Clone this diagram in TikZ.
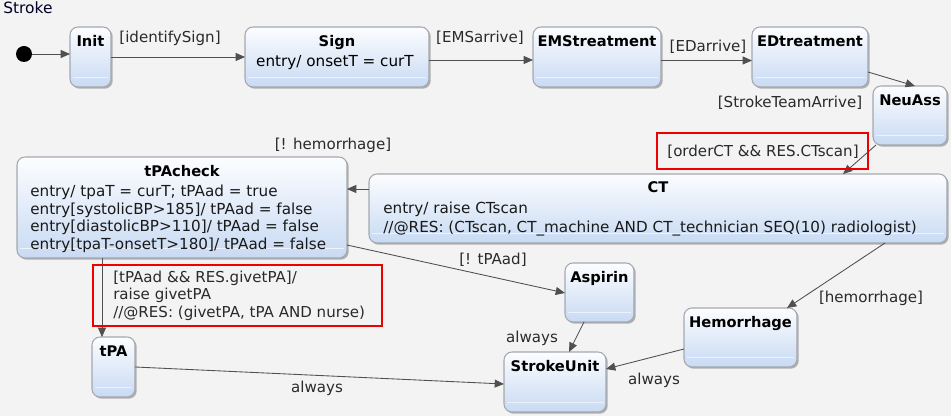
\documentclass[tikz,border=0pt]{standalone}
\usepackage{fontspec}
\setmainfont{DejaVu Sans}
\usetikzlibrary{calc,shadows,arrows.meta}
\definecolor{bgc}{HTML}{F3F3F3}
\definecolor{topc}{HTML}{FCFDFF}
\definecolor{botc}{HTML}{C8DAF3}
\definecolor{bordc}{HTML}{A4A8AE}
\definecolor{linec}{HTML}{505050}
\definecolor{lblc}{HTML}{2A2A2A}
\definecolor{innc}{HTML}{EEF3FB}
\definecolor{redc}{HTML}{EE0000}
\newcommand\stbox[5]{%
  \node[stnode, minimum width={(#4-#2)*0.75pt}, minimum height={(#5-#3)*0.75pt}]
    (#1) at ({(#2+#4)/2},{(#3+#5)/2}) {};
  \draw[innerline] ($(#1.south west)+(3,-10)$) -- ($(#1.south east)+(-3,-10)$);
}
\tikzset{
  stnode/.style={draw=bordc, line width=0.8pt, rounded corners=6pt, top color=topc,
    bottom color=botc, inner sep=0pt, outer sep=0pt,
    drop shadow={shadow xshift=1.3pt, shadow yshift=-1.3pt, opacity=0.28, fill=black}},
  innerline/.style={draw=innc, line width=0.6pt},
  ttl/.style={font=\fontsize{11}{13}\selectfont\bfseries, text=black, inner sep=0pt, anchor=base},
  body/.style={font=\fontsize{11.4}{13}\selectfont, text=black!90, inner sep=0pt, anchor=base west},
  lbl/.style={font=\fontsize{11.3}{13}\selectfont, text=lblc, inner sep=0pt},
  conn/.style={draw=linec, line width=0.65pt, -{Triangle[length=7pt,width=6pt]}},
  redbox/.style={draw=redc, line width=1.5pt, inner sep=0pt, outer sep=0pt},
}
\begin{document}
\begin{tikzpicture}[x=0.75pt,y=-0.75pt]
\useasboundingbox (0,0) rectangle (951,416);
\fill[bgc] (0,0) rectangle (951,416);
\node[lbl, anchor=base west, text=black!85!blue, font=\fontsize{11.6}{13}\selectfont] (title) at (3,14) {Stroke};

% states
\node[circle, fill=black, inner sep=0pt, minimum size=12pt] (start) at (24,54) {};
\stbox{Init}{70}{27}{111}{87}
\stbox{Sign}{245}{27}{429}{87}
\stbox{EMS}{533}{27}{661}{87}
\stbox{ED}{752}{27}{868}{87}
\stbox{NeuAss}{873}{86}{947}{145}
\stbox{tPAcheck}{17}{157}{347}{258}
\stbox{CT}{369}{174}{947}{243}
\stbox{Aspirin}{565}{263}{634}{322}
\stbox{Hemorrhage}{684}{308}{797}{367}
\stbox{StrokeUnit}{504}{352}{606}{412}
\stbox{tPA}{92}{337}{135}{397}

% state texts
\node[ttl] (InitT) at (90.5,47) {Init};
\node[ttl] (SignT) at (337,47) {Sign};
\node[ttl, font=\fontsize{11.4}{13}\selectfont] (SignB) at (335,67) {entry/ onsetT = curT};
\node[ttl] (EMST) at (597,47) {EMStreatment};
\node[ttl] (EDT) at (810,47) {EDtreatment};
\node[ttl] (NeuAssT) at (910,106) {NeuAss};
\node[ttl] (tPAcheckT) at (182,177) {tPAcheck};
\node[body] (tc1) at (30,197) {entry/ tpaT = curT; tPAad = true};
\node[body] (tc2) at (30,214.4) {entry[systolicBP>185]/ tPAad = false};
\node[body] (tc3) at (30,231.8) {entry[diastolicBP>110]/ tPAad = false};
\node[body] (tc4) at (30,249.2) {entry[tpaT-onsetT>180]/ tPAad = false};
\node[ttl] (CTT) at (658,193) {CT};
\node[body] (ct1) at (383,214) {entry/ raise CTscan};
\node[body] (ct2) at (383,233) {//@RES: (CTscan, CT\_machine AND CT\_technician SEQ(10) radiologist)};
\node[ttl] (AspirinT) at (599.5,283) {Aspirin};
\node[ttl] (HemT) at (740.5,328) {Hemorrhage};
\node[ttl] (SUT) at (555,372) {StrokeUnit};
\node[ttl] (tPAT) at (113.5,357) {tPA};

% connectors
\draw[conn] (start.east) -- (start.east -| Init.west);
\draw[conn] (Init.east) -- (Sign.west);
\draw[conn] ($(Sign.east)+(0,3)$) -- ($(EMS.west)+(0,3)$);
\draw[conn] ($(EMS.east)+(0,3.5)$) -- ($(ED.west)+(0,3.5)$);
\draw[conn] ($(ED.east)+(0,15)$) -- ($(NeuAss.north)+(5,0)$);
\draw[conn] ($(NeuAss.south west)+(3,0)$) -- ($(CT.north)+(185,0)$);
\coordinate (ctL) at ($(CT.west)+(0,-19.5)$);
\draw[conn] (ctL) -- (ctL -| tPAcheck.east);
\draw[conn] ($(tPAcheck.south east)+(0,-13)$) -- ($(Aspirin.west)+(0,0.5)$);
\coordinate (tcB) at ($(tPAcheck.south west)+(85,0)$);
\draw[conn] (tcB) -- (tcB |- tPA.north);
\draw[conn] ($(CT.south east)+(-62,0)$) -- ($(Hemorrhage.north east)+(-10,0)$);
\draw[conn] ($(Aspirin.south)+(-15.5,0)$) -- ($(StrokeUnit.north)+(14,0)$);
\draw[conn] ($(Hemorrhage.west)+(0,11.5)$) -- ($(StrokeUnit.east)+(0,-13)$);
\draw[conn] (tPA.east) -- ($(StrokeUnit.west)+(0,2)$);

% labels
\node[lbl] (l1) at (170,38) {[identifySign]};
\node[lbl] (l2) at (480,38) {[EMSarrive]};
\node[lbl] (l3) at (708,47) {[EDarrive]};
\node[lbl] (l4) at (790,103) {[StrokeTeamArrive]};
\node[redbox, minimum width={211*0.75pt}, minimum height={36*0.75pt}] (r1) at (762.5,151) {};
\node[lbl] (l5) at (763,152) {[orderCT \&\& RES.CTscan]};
\node[lbl] (l6) at (333,145) {[! hemorrhage]};
\node[lbl] (l7) at (493,260) {[! tPAad]};
\node[redbox, minimum width={289*0.75pt}, minimum height={61*0.75pt}] (r2) at (237.5,295.5) {};
\node[lbl, anchor=base west] (l8a) at (113,282.5) {[tPAad \&\& RES.givetPA]/};
\node[lbl, anchor=base west] (l8b) at (113,300) {raise givetPA};
\node[lbl, anchor=base west] (l8c) at (113,317.5) {//@RES: (givetPA, tPA AND nurse)};
\node[lbl] (l9) at (871,298) {[hemorrhage]};
\node[lbl] (l10) at (532,338) {always};
\node[lbl] (l11) at (654,380) {always};
\node[lbl] (l12) at (317,388) {always};
\end{tikzpicture}
\end{document}
